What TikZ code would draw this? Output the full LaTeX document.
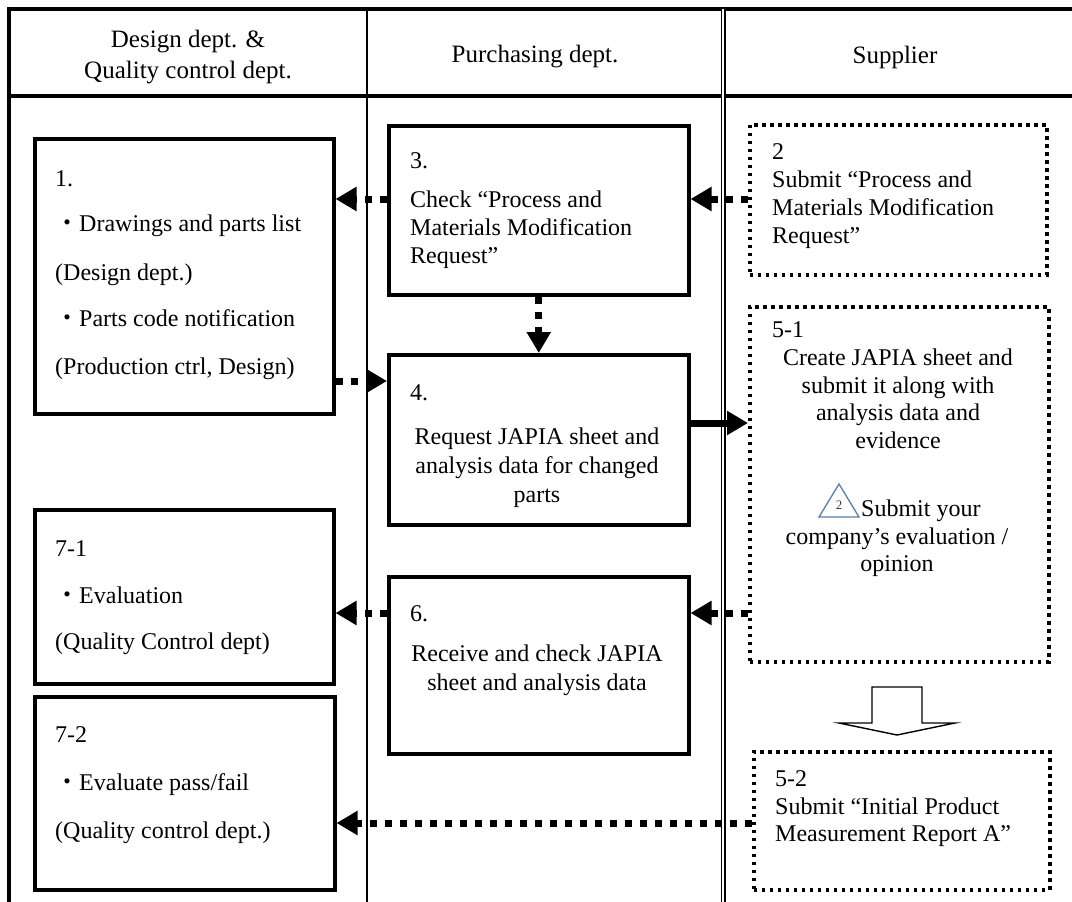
\documentclass[tikz,border=0pt]{standalone}
\usepackage{fontspec}
\setmainfont{Liberation Serif}
\newfontfamily\cjkfont{Noto Sans CJK JP}
\usetikzlibrary{arrows.meta}
\definecolor{iconblue}{RGB}{90,125,175}
\begin{document}
\begin{tikzpicture}[x=1pt,y=-1pt,
  txt/.style={inner sep=0pt, font=\fontsize{24}{28}\selectfont, anchor=base west},
  ctxt/.style={txt, anchor=base},
  hdr/.style={inner sep=0pt, font=\fontsize{25}{31}\selectfont, align=center},
  solidbox/.style={draw, line width=3.5pt, anchor=north west, inner sep=0pt},
  dotbox/.style={draw, line width=3.5pt, dash pattern=on 3.5pt off 4.5pt, anchor=north west, inner sep=0pt},
  conn/.style={line width=7pt, dash pattern=on 7.5pt off 7.5pt, -{Triangle[length=21pt,width=23pt]}},
  sconn/.style={line width=7pt, -{Triangle[length=21pt,width=23pt]}},
  frame/.style={line width=3.5pt},
  thinline/.style={line width=1.6pt},
]
\useasboundingbox (0,0) rectangle (1072,902);
\fill[white] (0,0) rectangle (1072,902);

% table frame
\draw[frame] (9,902) -- (9,9) -- (1072,9);
\draw[frame] (9,96) -- (1072,96);
\draw[thinline] (367,9) -- (367,902);
\draw[line width=1.2pt, double, double distance=2.6pt] (723,9) -- (723,902);

% headers
\node[hdr] (h1) at (188,57) {Design dept. \&\\Quality control dept.};
\node[hdr] (h2) at (535,57) {Purchasing dept.};
\node[hdr] (h3) at (895,57) {Supplier};

% boxes
\node[solidbox, minimum width=299pt, minimum height=275pt] (b1) at (33,137) {};
\node[solidbox, minimum width=300pt, minimum height=169pt] (b3) at (387,124) {};
\node[solidbox, minimum width=300pt, minimum height=170pt] (b4) at (387,353) {};
\node[solidbox, minimum width=300pt, minimum height=177pt] (b6) at (387,575) {};
\node[solidbox, minimum width=299pt, minimum height=174pt] (b71) at (33,508) {};
\node[solidbox, minimum width=300pt, minimum height=193pt] (b72) at (33,695) {};
\node[dotbox, minimum width=297pt, minimum height=150pt] (b2) at (748,123) {};
\node[dotbox, minimum width=299pt, minimum height=355pt] (b51) at (748,305) {};
\node[dotbox, minimum width=296pt, minimum height=138pt] (b52) at (752,750) {};

% box texts
\node[txt] (t1a) at (55,186) {1.};
\node[txt] (t1b) at (55,231) {{\cjkfont ・}Drawings and parts list};
\node[txt] (t1c) at (55,280) {(Design dept.)};
\node[txt] (t1d) at (55,326) {{\cjkfont ・}Parts code notification};
\node[txt] (t1e) at (55,374) {(Production ctrl, Design)};

\node[txt] (t3a) at (410,168) {3.};
\node[txt] (t3b) at (410,207) {Check “Process and};
\node[txt] (t3c) at (410,235) {Materials Modification};
\node[txt] (t3d) at (410,263) {Request”};

\node[txt] (t2a) at (772,159) {2};
\node[txt] (t2b) at (772,187) {Submit “Process and};
\node[txt] (t2c) at (772,215) {Materials Modification};
\node[txt] (t2d) at (772,243) {Request”};

\node[txt] (t4a) at (410,400) {4.};
\node[ctxt] (t4b) at (537,444) {Request JAPIA sheet and};
\node[ctxt] (t4c) at (537,473) {analysis data for changed};
\node[ctxt] (t4d) at (537,502) {parts};

\node[txt] (t5a) at (772,337) {5-1};
\node[ctxt] (t5b) at (898,365) {Create JAPIA sheet and};
\node[ctxt] (t5c) at (898,393) {submit it along with};
\node[ctxt] (t5d) at (898,420) {analysis data and};
\node[ctxt] (t5e) at (898,448) {evidence};
\node[txt] (t5f) at (861,516) {Submit your};
\node[ctxt] (t5g) at (897,544) {company’s evaluation /};
\node[ctxt] (t5h) at (897,571) {opinion};
\draw[iconblue, line width=1.3pt, line join=miter] (819,517) -- (839,484) -- (859,517) -- cycle;
\node[inner sep=0pt, font=\fontsize{13}{13}\selectfont, text=black!75] (icon) at (839,505) {2};

\node[txt] (t6a) at (410,621) {6.};
\node[ctxt] (t6b) at (537,661) {Receive and check JAPIA};
\node[ctxt] (t6c) at (537,690) {sheet and analysis data};

\node[txt] (t7a) at (55,556) {7-1};
\node[txt] (t7b) at (55,603) {{\cjkfont ・}Evaluation};
\node[txt] (t7c) at (55,649) {(Quality Control dept)};

\node[txt] (t8a) at (55,742) {7-2};
\node[txt] (t8b) at (55,790) {{\cjkfont ・}Evaluate pass/fail};
\node[txt] (t8c) at (55,838) {(Quality control dept.)};

\node[txt] (t9a) at (775,786) {5-2};
\node[txt] (t9b) at (775,814) {Submit “Initial Product};
\node[txt] (t9c) at (775,841) {Measurement Report A”};

% hollow block arrow between 5-1 and 5-2
\draw[line width=1.4pt, line join=miter] (872,687) -- (922,687) -- (922,723) -- (955,723) -- (897,735) -- (839,723) -- (872,723) -- cycle;

% connector levels
\coordinate (ya) at (0,199);
\coordinate (yb) at (0,381);
\coordinate (yc) at (0,423);
\coordinate (yd) at (0,613);
\coordinate (ye) at (0,823);

% connectors
\draw[conn] (b2.west |- ya) -- (b3.east |- ya);
\draw[conn] (b3.west |- ya) -- (b1.east |- ya);
\draw[conn] (b3.south) -- (b4.north);
\draw[conn] (b1.east |- yb) -- (b4.west |- yb);
\draw[sconn] (b4.east |- yc) -- (b51.west |- yc);
\draw[conn] (b51.west |- yd) -- (b6.east |- yd);
\draw[conn] (b6.west |- yd) -- (b71.east |- yd);
\draw[conn] (b52.west |- ye) -- (b72.east |- ye);
\end{tikzpicture}
\end{document}
